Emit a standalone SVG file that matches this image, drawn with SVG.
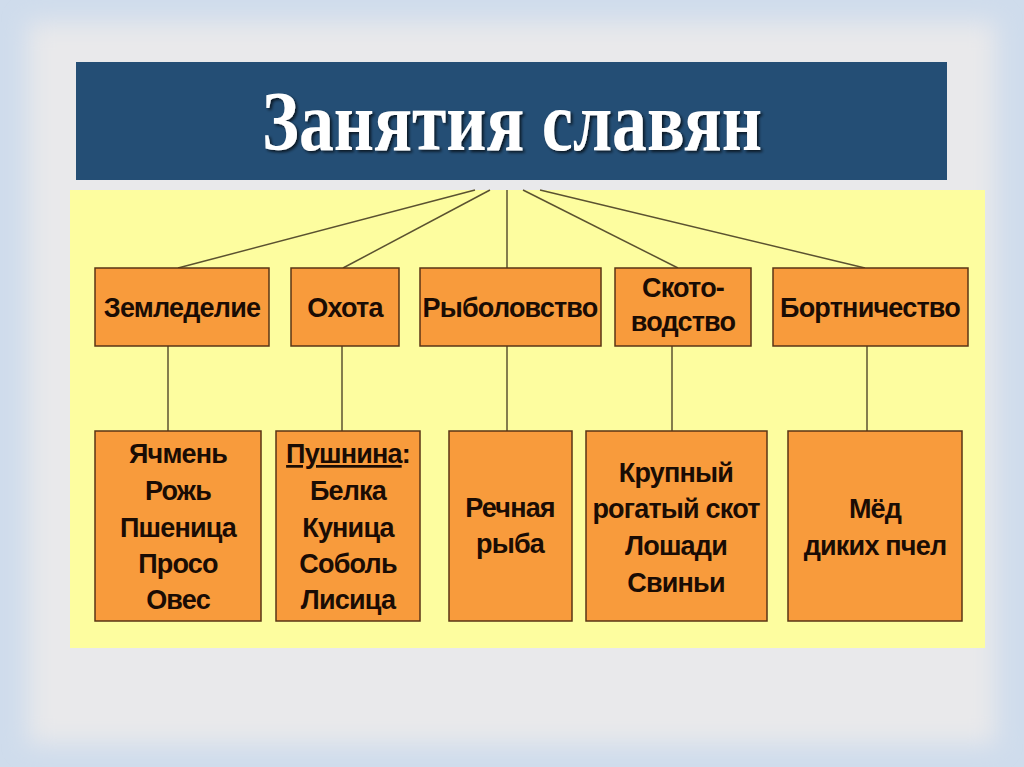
<svg xmlns="http://www.w3.org/2000/svg" width="1024" height="767" viewBox="0 0 1024 767">
  <defs>
    <filter id="soft" x="-5%" y="-5%" width="110%" height="110%">
      <feGaussianBlur stdDeviation="12"/>
    </filter>
    <filter id="tshadow" x="-5%" y="-20%" width="110%" height="140%">
      <feDropShadow dx="2" dy="2" stdDeviation="1.5" flood-color="#000" flood-opacity="0.7"/>
    </filter>
  </defs>
  <style>
    .box { fill: #f89b3c; stroke: #5a3516; stroke-width: 1.5; }
    .lbl { font-family: "Liberation Sans", Arial, sans-serif; font-weight: bold; font-size: 27px; letter-spacing: -0.8px; fill: #1a0c04; text-anchor: middle; }
    .conn line { stroke: #5b5230; stroke-width: 1.5; }
  </style>

  <!-- background -->
  <rect x="0" y="0" width="1024" height="767" fill="#cfdcec"/>
  <rect x="28" y="22" width="968" height="722" fill="#e9e9eb" filter="url(#soft)"/>

  <!-- title -->
  <g id="title">
    <rect x="76" y="62" width="871" height="118" fill="#244e75"/>
    <text x="512" y="150" font-family="Liberation Serif, Times New Roman, serif" font-weight="bold" font-size="84" fill="#ffffff" text-anchor="middle" textLength="500" lengthAdjust="spacingAndGlyphs" filter="url(#tshadow)">Занятия славян</text>
  </g>

  <!-- yellow panel -->
  <rect x="70" y="190" width="915" height="458" fill="#fdfd9f"/>

  <g id="connectors" class="conn">
    <line x1="475" y1="190" x2="178" y2="268"/>
    <line x1="490" y1="190" x2="343" y2="268"/>
    <line x1="507" y1="190" x2="507" y2="268"/>
    <line x1="523" y1="190" x2="678" y2="268"/>
    <line x1="540" y1="190" x2="865" y2="268"/>
    <line x1="168" y1="346" x2="168" y2="431"/>
    <line x1="342" y1="346" x2="342" y2="431"/>
    <line x1="507" y1="346" x2="507" y2="431"/>
    <line x1="672" y1="346" x2="672" y2="431"/>
    <line x1="867" y1="346" x2="867" y2="431"/>
  </g>

  <!-- top row -->
  <g id="zemledelie">
    <rect class="box" x="95" y="268" width="174" height="78"/>
    <text class="lbl" x="182" y="317">Земледелие</text>
  </g>
  <g id="ohota">
    <rect class="box" x="291" y="268" width="108" height="78"/>
    <text class="lbl" x="345" y="317">Охота</text>
  </g>
  <g id="rybolovstvo">
    <rect class="box" x="420" y="268" width="181" height="78"/>
    <text class="lbl" x="510" y="317">Рыболовство</text>
  </g>
  <g id="skotovodstvo">
    <rect class="box" x="615" y="268" width="136" height="78"/>
    <text class="lbl" x="683" y="297">Ското-</text>
    <text class="lbl" x="683" y="331">водство</text>
  </g>
  <g id="bortnichestvo">
    <rect class="box" x="773" y="268" width="195" height="78"/>
    <text class="lbl" x="870" y="317">Бортничество</text>
  </g>

  <!-- bottom row -->
  <g id="zlaki">
    <rect class="box" x="95" y="431" width="166" height="190"/>
    <text class="lbl" x="178" y="463">Ячмень</text>
    <text class="lbl" x="178" y="500">Рожь</text>
    <text class="lbl" x="178" y="537">Пшеница</text>
    <text class="lbl" x="178" y="573">Просо</text>
    <text class="lbl" x="178" y="609">Овес</text>
  </g>
  <g id="pushnina">
    <rect class="box" x="276" y="431" width="144" height="190"/>
    <text class="lbl" x="348" y="463"><tspan text-decoration="underline">Пушнина</tspan>:</text>
    <text class="lbl" x="348" y="500">Белка</text>
    <text class="lbl" x="348" y="537">Куница</text>
    <text class="lbl" x="348" y="573">Соболь</text>
    <text class="lbl" x="348" y="609">Лисица</text>
  </g>
  <g id="ryba">
    <rect class="box" x="449" y="431" width="123" height="190"/>
    <text class="lbl" x="510" y="517">Речная</text>
    <text class="lbl" x="510" y="553">рыба</text>
  </g>
  <g id="skot">
    <rect class="box" x="586" y="431" width="181" height="190"/>
    <text class="lbl" x="676" y="482">Крупный</text>
    <text class="lbl" x="676" y="518">рогатый скот</text>
    <text class="lbl" x="676" y="555">Лошади</text>
    <text class="lbl" x="676" y="592">Свиньи</text>
  </g>
  <g id="med">
    <rect class="box" x="788" y="431" width="174" height="190"/>
    <text class="lbl" x="875" y="518">Мёд</text>
    <text class="lbl" x="875" y="555">диких пчел</text>
  </g>
</svg>
